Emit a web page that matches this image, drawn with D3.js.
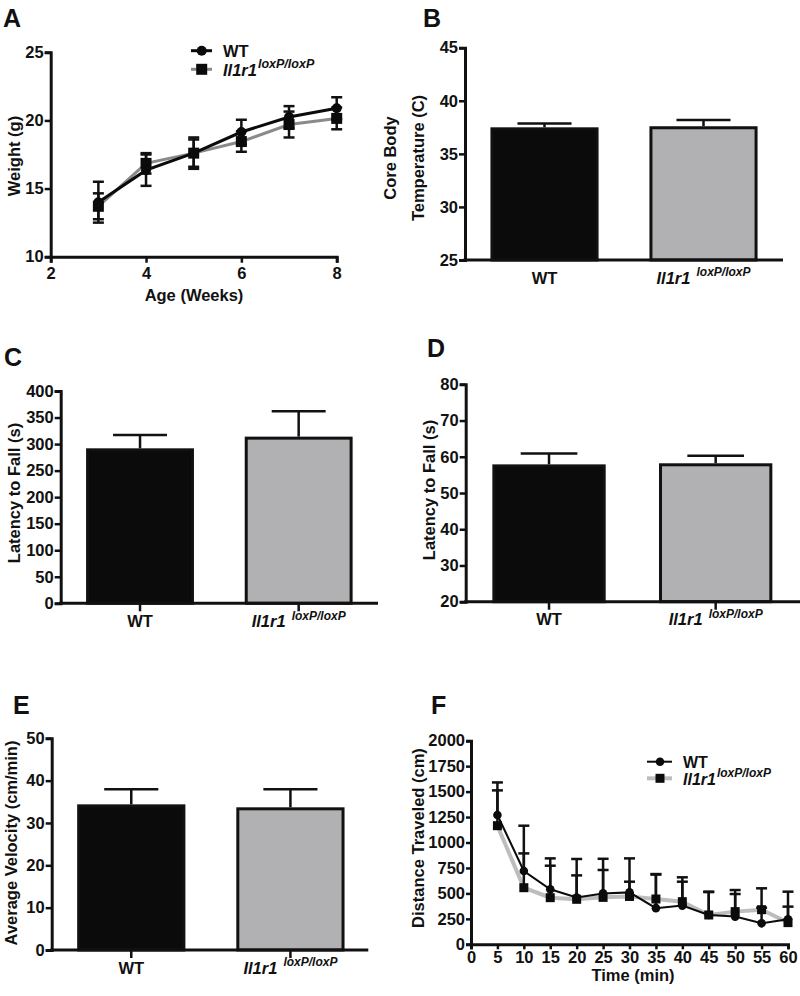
<!DOCTYPE html>
<html>
<head>
<meta charset="utf-8">
<script src="https://cdn.jsdelivr.net/npm/d3@7"></script>
<style>
  body { margin: 0; background: #fff; }
  svg text { font-family: "Liberation Sans", Arial, sans-serif; font-weight: bold; fill: #111; }
</style>
</head>
<body>
<script>
// ---------------- DATA ----------------
const groups = ["WT", "Il1r1 loxP/loxP"];

// Panel A: body weight by age
const ageWeeks = [3, 4, 5, 6, 7, 8];
const weightWT = [14.0, 16.35, 17.6, 19.15, 20.25, 20.9];
const weightWTErr = [1.5, 1.15, 1.15, 0.9, 0.8, 0.8];
const weightKO = [13.7, 16.85, 17.6, 18.45, 19.7, 20.15];
const weightKOErr = [0.95, 0.75, 1.0, 0.75, 0.95, 0.8];
const weightTicksX = [2, 4, 6, 8];
const weightTicksY = [10, 15, 20, 25];

// Panel B: core body temperature
const tempMean = [37.5, 37.6];
const tempErr = [0.35, 0.6];
const tempTicks = [25, 30, 35, 40, 45];

// Panel C: latency to fall
const latencyCMean = [292, 314];
const latencyCErr = [25, 48];
const latencyCTicks = [0, 50, 100, 150, 200, 250, 300, 350, 400];

// Panel D: latency to fall
const latencyDMean = [57.9, 58.2];
const latencyDErr = [3.0, 2.1];
const latencyDTicks = [20, 30, 40, 50, 60, 70, 80];

// Panel E: average velocity
const velocityMean = [34.4, 33.7];
const velocityErr = [3.55, 4.25];
const velocityTicks = [0, 10, 20, 30, 40, 50];

// Panel F: distance traveled over time
const timeMin = [5, 10, 15, 20, 25, 30, 35, 40, 45, 50, 55, 60];
const distWT = [1270, 720, 540, 460, 500, 510, 355, 380, 288, 272, 206, 245];
const distWTErr = [320, 445, 304, 378, 340, 334, 335, 278, 229, 261, 344, 272];
const distKO = [1165, 556, 458, 442, 461, 470, 445, 419, 288, 321, 340, 213];
const distKOErr = [347, 337, 314, 235, 269, 145, 240, 196, 225, 173, 20, 157];
const timeTicks = [0, 5, 10, 15, 20, 25, 30, 35, 40, 45, 50, 55, 60];
const distTicks = [0, 250, 500, 750, 1000, 1250, 1500, 1750, 2000];

// ---------------- DRAWING ----------------
const svg = d3.select("body").append("svg").attr("width", 800).attr("height", 996);

const TICK_FS = 16.5, TITLE_FS = 16.5, AX_W = 3;
const fmt = d3.format("d");
const barFill = ["#0b0b0b", "#b1b1b3"];

function styleAxis(g) {
  g.select(".domain").attr("stroke", "#111").attr("stroke-width", AX_W);
  g.selectAll(".tick line").attr("stroke", "#111").attr("stroke-width", 2.5);
  g.selectAll(".tick text").attr("font-size", TICK_FS).attr("fill", "#111");
}

function panelLetter(t, x, y) {
  svg.append("text").attr("x", x).attr("y", y).attr("font-size", 25).text(t);
}

function yTitle(lines, x, yc, lh) {
  const t = svg.append("text")
    .attr("transform", `translate(${x},${yc}) rotate(-90)`)
    .attr("text-anchor", "middle").attr("font-size", TITLE_FS);
  lines.forEach((l, i) => {
    t.append("tspan").attr("x", 0).attr("dy", i === 0 ? (-(lines.length - 1) * lh / 2 + 6) : lh).text(l);
  });
}

function xTitle(s, xc, y) {
  svg.append("text").attr("x", xc).attr("y", y).attr("text-anchor", "middle")
    .attr("font-size", TITLE_FS).text(s);
}

// writes "Il1r1" + superscript into a text selection
function geneLabel(textSel, mainFs, supFs, gap) {
  textSel.text(null);
  textSel.append("tspan").attr("font-style", "italic").attr("font-size", mainFs).text("Il1r1");
  textSel.append("tspan").attr("font-style", "italic").attr("font-size", supFs)
    .attr("dx", gap).attr("dy", -mainFs * 0.45).text("loxP/loxP");
}

function barPanel(o) {
  const x = d3.scaleBand().domain(groups).range([o.x0, o.x1]).paddingInner(0.32).paddingOuter(0.16);
  const y = d3.scaleLinear().domain(o.domain).range([o.yBot, o.yTop]);
  const g = svg.append("g");
  g.selectAll("rect.bar").data(o.mean).join("rect")
    .attr("x", (d, i) => x(groups[i]) + 1.5)
    .attr("width", x.bandwidth() - 3)
    .attr("y", d => y(d) + 1.5)
    .attr("height", d => y(o.domain[0]) - y(d) - 1.5)
    .attr("fill", (d, i) => barFill[i])
    .attr("stroke", "#111").attr("stroke-width", 3);
  o.mean.forEach((m, i) => {
    const cx = x(groups[i]) + x.bandwidth() / 2;
    const cw = x.bandwidth() / 4;
    g.append("line").attr("x1", cx).attr("x2", cx).attr("y1", y(m)).attr("y2", y(m + o.err[i]))
      .attr("stroke", "#111").attr("stroke-width", 2.5);
    g.append("line").attr("x1", cx - cw).attr("x2", cx + cw).attr("y1", y(m + o.err[i])).attr("y2", y(m + o.err[i]))
      .attr("stroke", "#111").attr("stroke-width", 2.5);
  });
  const ya = svg.append("g").attr("transform", `translate(${o.x0},0)`)
    .call(d3.axisLeft(y).tickValues(o.ticks).tickFormat(fmt).tickSizeOuter(0).tickSize(6).tickPadding(1));
  styleAxis(ya);
  const xa = svg.append("g").attr("transform", `translate(0,${o.yBot})`)
    .call(d3.axisBottom(x).tickSizeOuter(0).tickSize(o.catTicks ? 8 : 0).tickPadding(o.catTicks ? 4 : 12));
  styleAxis(xa);
  xa.select(".domain").attr("d", `M${o.x0 - 1.5},0H${o.xAxisEnd}`);
  xa.selectAll(".tick text").each(function (d) {
    if (d !== "WT") geneLabel(d3.select(this), TICK_FS, 12, 6);
  });
}

// ---------- Panel A ----------
(function () {
  const x = d3.scaleLinear().domain([2, 8]).range([50.7, 336.7]);
  const y = d3.scaleLinear().domain([10, 25]).range([256.7, 52.3]);
  const g = svg.append("g");
  const ln = d3.line().x((d, i) => x(ageWeeks[i])).y(d => y(d));
  g.append("path").attr("d", ln(weightKO)).attr("fill", "none").attr("stroke", "#8a8a8a").attr("stroke-width", 3);
  g.append("path").attr("d", ln(weightWT)).attr("fill", "none").attr("stroke", "#0b0b0b").attr("stroke-width", 3);
  function errs(vals, es) {
    vals.forEach((v, i) => {
      const cx = x(ageWeeks[i]);
      g.append("line").attr("x1", cx).attr("x2", cx).attr("y1", y(v - es[i])).attr("y2", y(v + es[i]))
        .attr("stroke", "#111").attr("stroke-width", 2.5);
      [v - es[i], v + es[i]].forEach(e => g.append("line").attr("x1", cx - 5.5).attr("x2", cx + 5.5)
        .attr("y1", y(e)).attr("y2", y(e)).attr("stroke", "#111").attr("stroke-width", 2.5));
    });
  }
  errs(weightWT, weightWTErr);
  errs(weightKO, weightKOErr);
  g.selectAll("rect.m").data(weightKO).join("rect")
    .attr("x", (d, i) => x(ageWeeks[i]) - 5.5).attr("y", d => y(d) - 5.5)
    .attr("width", 11).attr("height", 11).attr("fill", "#0b0b0b");
  g.selectAll("circle.m").data(weightWT).join("circle")
    .attr("cx", (d, i) => x(ageWeeks[i])).attr("cy", d => y(d)).attr("r", 5).attr("fill", "#0b0b0b");
  const ya = svg.append("g").attr("transform", "translate(50.7,0)")
    .call(d3.axisLeft(y).tickValues(weightTicksY).tickFormat(fmt).tickSizeOuter(0).tickSize(6).tickPadding(1));
  styleAxis(ya);
  const xa = svg.append("g").attr("transform", "translate(0,256.7)")
    .call(d3.axisBottom(x).tickValues(weightTicksX).tickFormat(fmt).tickSizeOuter(0).tickSize(6).tickPadding(5));
  styleAxis(xa);
  const lg = svg.append("g");
  lg.append("line").attr("x1", 191).attr("x2", 212).attr("y1", 50.7).attr("y2", 50.7).attr("stroke", "#0b0b0b").attr("stroke-width", 3);
  lg.append("circle").attr("cx", 201.7).attr("cy", 50.7).attr("r", 5).attr("fill", "#0b0b0b");
  lg.append("line").attr("x1", 191).attr("x2", 212).attr("y1", 69.3).attr("y2", 69.3).attr("stroke", "#8a8a8a").attr("stroke-width", 3);
  lg.append("rect").attr("x", 196.2).attr("y", 63.8).attr("width", 11).attr("height", 11).attr("fill", "#0b0b0b");
  lg.append("text").attr("x", 223).attr("y", 56.5).attr("font-size", 16.5).text("WT");
  geneLabel(lg.append("text").attr("x", 223).attr("y", 75.5), 16.5, 12.5, 1);
  panelLetter("A", 3, 27);
  yTitle(["Weight (g)"], 14, 156, 0);
  xTitle("Age (Weeks)", 194, 301);
})();

// ---------- Panel B ----------
barPanel({ x0: 465, x1: 783, xAxisEnd: 783, yTop: 47.7, yBot: 260, domain: [25, 45],
  ticks: tempTicks, mean: tempMean, err: tempErr, catTicks: false });
panelLetter("B", 423, 27);
yTitle(["Core Body", "Temperature (C)"], 404, 158, 28);

// ---------- Panel C ----------
barPanel({ x0: 60.7, x1: 378, xAxisEnd: 378, yTop: 391, yBot: 603.3, domain: [0, 400],
  ticks: latencyCTicks, mean: latencyCMean, err: latencyCErr, catTicks: true });
panelLetter("C", 4, 366);
yTitle(["Latency to Fall (s)"], 14, 493, 0);

// ---------- Panel D ----------
barPanel({ x0: 465.7, x1: 799, xAxisEnd: 800, yTop: 384.3, yBot: 601.7, domain: [20, 80],
  ticks: latencyDTicks, mean: latencyDMean, err: latencyDErr, catTicks: true });
panelLetter("D", 427, 357);
yTitle(["Latency to Fall (s)"], 429, 490, 0);

// ---------- Panel E ----------
barPanel({ x0: 51.7, x1: 370, xAxisEnd: 368.3, yTop: 738.3, yBot: 950, domain: [0, 50],
  ticks: velocityTicks, mean: velocityMean, err: velocityErr, catTicks: true });
panelLetter("E", 13, 714);
yTitle(["Average Velocity (cm/min)"], 11, 843, 0);

// ---------- Panel F ----------
(function () {
  const x = d3.scaleLinear().domain([0, 60]).range([471, 788]);
  const y = d3.scaleLinear().domain([0, 2000]).range([944.3, 740.7]);
  const g = svg.append("g");
  const ln = d3.line().x((d, i) => x(timeMin[i])).y(d => y(d));
  g.append("path").attr("d", ln(distKO)).attr("fill", "none").attr("stroke", "#bdbdbd").attr("stroke-width", 4);
  g.append("path").attr("d", ln(distWT)).attr("fill", "none").attr("stroke", "#0b0b0b").attr("stroke-width", 2);
  function errs(vals, es) {
    vals.forEach((v, i) => {
      const cx = x(timeMin[i]);
      g.append("line").attr("x1", cx).attr("x2", cx).attr("y1", y(v)).attr("y2", y(v + es[i]))
        .attr("stroke", "#111").attr("stroke-width", 2.5);
      g.append("line").attr("x1", cx - 5.5).attr("x2", cx + 5.5).attr("y1", y(v + es[i])).attr("y2", y(v + es[i]))
        .attr("stroke", "#111").attr("stroke-width", 2.5);
    });
  }
  errs(distWT, distWTErr);
  errs(distKO, distKOErr);
  g.selectAll("rect.m").data(distKO).join("rect")
    .attr("x", (d, i) => x(timeMin[i]) - 4.5).attr("y", d => y(d) - 4.5)
    .attr("width", 9).attr("height", 9).attr("fill", "#0b0b0b");
  g.selectAll("circle.m").data(distWT).join("circle")
    .attr("cx", (d, i) => x(timeMin[i])).attr("cy", d => y(d)).attr("r", 4.3).attr("fill", "#0b0b0b");
  const ya = svg.append("g").attr("transform", "translate(471,0)")
    .call(d3.axisLeft(y).tickValues(distTicks).tickFormat(fmt).tickSizeOuter(0).tickSize(5).tickPadding(1));
  styleAxis(ya);
  const xa = svg.append("g").attr("transform", "translate(0,944.3)")
    .call(d3.axisBottom(x).tickValues(timeTicks).tickFormat(fmt).tickSizeOuter(0).tickSize(5).tickPadding(2));
  styleAxis(xa);
  const lg = svg.append("g");
  lg.append("line").attr("x1", 647).attr("x2", 672).attr("y1", 761.7).attr("y2", 761.7).attr("stroke", "#0b0b0b").attr("stroke-width", 2);
  lg.append("circle").attr("cx", 660).attr("cy", 761.7).attr("r", 4.3).attr("fill", "#0b0b0b");
  lg.append("line").attr("x1", 647).attr("x2", 672).attr("y1", 778.3).attr("y2", 778.3).attr("stroke", "#bdbdbd").attr("stroke-width", 4);
  lg.append("rect").attr("x", 655.5).attr("y", 773.8).attr("width", 9).attr("height", 9).attr("fill", "#0b0b0b");
  lg.append("text").attr("x", 683).attr("y", 768).attr("font-size", 16).text("WT");
  geneLabel(lg.append("text").attr("x", 683).attr("y", 784.5), 16, 12, 1);
  panelLetter("F", 431, 714);
  yTitle(["Distance Traveled (cm)"], 418, 838, 0);
  xTitle("Time (min)", 633, 981);
})();
</script>
</body>
</html>
